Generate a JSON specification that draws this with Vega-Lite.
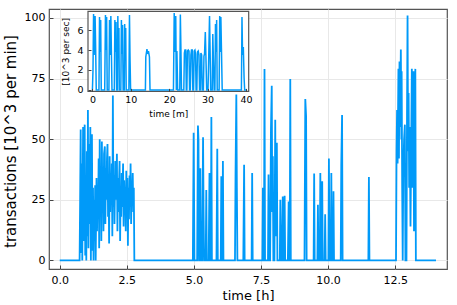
{
  "$schema": "https://vega.github.io/schema/vega-lite/v6.json",
  "width": 398,
  "height": 260,
  "autosize": "none",
  "padding": {"left": 49, "top": 9, "right": 10, "bottom": 36},
  "background": "white",
  "config": {
    "font": "DejaVu Sans",
    "view": {"stroke": "#555555", "strokeWidth": 1.2},
    "axis": {"labelColor": "#000000", "titleColor": "#000000", "gridColor": "#e8e8e8", "tickColor": "#444444", "domain": false, "titleFontWeight": "normal"}
  },
  "datasets": {
    "main": [
      {"t":0,"v":0},{"t":0.74,"v":0},
      {"t":0.76,"v":25},{"t":0.78,"v":54},{"t":0.80,"v":3},{"t":0.82,"v":40},{"t":0.84,"v":0},{"t":0.87,"v":55},{"t":0.89,"v":8},{"t":0.91,"v":42},{"t":0.93,"v":56},{"t":0.95,"v":2},{"t":0.97,"v":35},{"t":0.99,"v":0},{"t":1.01,"v":45},{"t":1.03,"v":10},{"t":1.05,"v":62},{"t":1.07,"v":5},{"t":1.09,"v":48},{"t":1.11,"v":15},{"t":1.14,"v":55},{"t":1.16,"v":0},{"t":1.18,"v":38},{"t":1.20,"v":52},{"t":1.22,"v":4},{"t":1.24,"v":30},{"t":1.26,"v":0},{"t":1.28,"v":25},{"t":1.30,"v":8},{"t":1.32,"v":31},{"t":1.34,"v":0},
      {"t":1.37,"v":34},{"t":1.39,"v":12},{"t":1.41,"v":30},{"t":1.43,"v":18},{"t":1.45,"v":42},{"t":1.47,"v":5},{"t":1.49,"v":50},{"t":1.51,"v":20},{"t":1.53,"v":38},{"t":1.55,"v":8},{"t":1.57,"v":49},{"t":1.59,"v":22},{"t":1.61,"v":35},{"t":1.63,"v":12},{"t":1.65,"v":44},{"t":1.68,"v":47},{"t":1.70,"v":15},{"t":1.72,"v":38},{"t":1.74,"v":25},{"t":1.76,"v":42},{"t":1.78,"v":48},{"t":1.80,"v":18},{"t":1.82,"v":33},{"t":1.84,"v":7},{"t":1.86,"v":43},{"t":1.88,"v":20},{"t":1.90,"v":36},{"t":1.92,"v":26},{"t":1.94,"v":40},{"t":1.96,"v":10},{"t":1.98,"v":68},{"t":2.00,"v":22},{"t":2.02,"v":35},{"t":2.04,"v":15},{"t":2.07,"v":41},{"t":2.09,"v":25},{"t":2.11,"v":30},{"t":2.13,"v":44},{"t":2.15,"v":12},{"t":2.17,"v":34},{"t":2.19,"v":20},{"t":2.21,"v":32},{"t":2.23,"v":41},{"t":2.25,"v":8},{"t":2.27,"v":30},{"t":2.29,"v":18},{"t":2.31,"v":36},{"t":2.33,"v":22},{"t":2.36,"v":40},{"t":2.38,"v":14},{"t":2.40,"v":33},{"t":2.42,"v":24},{"t":2.44,"v":30},{"t":2.46,"v":12},{"t":2.48,"v":37},{"t":2.50,"v":20},{"t":2.52,"v":34},{"t":2.54,"v":6},{"t":2.56,"v":30},{"t":2.58,"v":17},{"t":2.60,"v":35},{"t":2.62,"v":22},{"t":2.64,"v":40},{"t":2.66,"v":15},{"t":2.68,"v":32},{"t":2.70,"v":26},{"t":2.72,"v":36},{"t":2.74,"v":20},{"t":2.76,"v":30},{"t":2.78,"v":0},
      {"t":4.96,"v":0},{"t":4.99,"v":52.6},{"t":5.02,"v":0},
      {"t":5.12,"v":0},{"t":5.15,"v":55.6},{"t":5.17,"v":49.8},{"t":5.19,"v":0},
      {"t":5.22,"v":0},{"t":5.24,"v":38},{"t":5.26,"v":0},
      {"t":5.31,"v":0},{"t":5.34,"v":50.8},{"t":5.36,"v":20},{"t":5.38,"v":0},
      {"t":5.44,"v":0},{"t":5.46,"v":29},{"t":5.48,"v":0},
      {"t":5.55,"v":0},{"t":5.58,"v":36},{"t":5.60,"v":0},
      {"t":5.63,"v":0},{"t":5.65,"v":59.2},{"t":5.67,"v":0},
      {"t":5.84,"v":0},{"t":5.87,"v":46},{"t":5.89,"v":0},
      {"t":6.00,"v":0},{"t":6.02,"v":34.7},{"t":6.04,"v":0},
      {"t":6.06,"v":0},{"t":6.08,"v":41},{"t":6.10,"v":0},
      {"t":6.53,"v":0},{"t":6.55,"v":35},{"t":6.58,"v":68.4},{"t":6.60,"v":30},{"t":6.62,"v":0},
      {"t":6.84,"v":0},{"t":6.87,"v":39.5},{"t":6.89,"v":0},
      {"t":7.15,"v":0},{"t":7.17,"v":36},{"t":7.19,"v":0},
      {"t":7.55,"v":0},{"t":7.57,"v":30},{"t":7.59,"v":0},{"t":7.61,"v":0},{"t":7.63,"v":79},{"t":7.65,"v":0},
      {"t":7.76,"v":0},{"t":7.78,"v":35.4},{"t":7.80,"v":0},
      {"t":7.84,"v":0},{"t":7.87,"v":54},{"t":7.90,"v":72},{"t":7.92,"v":20},{"t":7.94,"v":43},{"t":7.96,"v":0},
      {"t":8.00,"v":0},{"t":8.03,"v":58},{"t":8.05,"v":10},{"t":8.09,"v":48.5},{"t":8.11,"v":0},
      {"t":8.20,"v":0},{"t":8.22,"v":25},{"t":8.24,"v":0},
      {"t":8.28,"v":0},{"t":8.31,"v":26.4},{"t":8.33,"v":0},
      {"t":8.35,"v":0},{"t":8.38,"v":26.7},{"t":8.40,"v":0},
      {"t":8.50,"v":0},{"t":8.53,"v":24.3},{"t":8.55,"v":0},
      {"t":8.57,"v":0},{"t":8.59,"v":74.8},{"t":8.61,"v":0},
      {"t":9.12,"v":0},{"t":9.15,"v":66.6},{"t":9.18,"v":59.4},{"t":9.20,"v":0},
      {"t":9.46,"v":0},{"t":9.48,"v":35.8},{"t":9.50,"v":0},
      {"t":9.60,"v":0},{"t":9.62,"v":23},{"t":9.64,"v":0},
      {"t":9.69,"v":0},{"t":9.71,"v":36},{"t":9.73,"v":0},
      {"t":9.76,"v":0},{"t":9.78,"v":32.6},{"t":9.80,"v":0},
      {"t":9.87,"v":0},{"t":9.89,"v":19},{"t":9.91,"v":0},
      {"t":10.01,"v":0},{"t":10.03,"v":42},{"t":10.05,"v":0},
      {"t":10.10,"v":0},{"t":10.12,"v":36},{"t":10.14,"v":0},
      {"t":10.18,"v":0},{"t":10.20,"v":28.5},{"t":10.22,"v":0},
      {"t":10.47,"v":0},{"t":10.49,"v":39.5},{"t":10.52,"v":60},{"t":10.54,"v":0},
      {"t":11.50,"v":0},{"t":11.52,"v":34.4},{"t":11.54,"v":0},
      {"t":12.53,"v":0},{"t":12.55,"v":45},{"t":12.57,"v":62},{"t":12.59,"v":40},{"t":12.62,"v":79},{"t":12.64,"v":42},{"t":12.66,"v":82},{"t":12.68,"v":55},{"t":12.71,"v":87},{"t":12.73,"v":50},{"t":12.74,"v":78},{"t":12.76,"v":30},{"t":12.78,"v":0},{"t":12.80,"v":35},{"t":12.83,"v":50},{"t":12.86,"v":56},{"t":12.88,"v":0},
      {"t":12.92,"v":0},{"t":12.94,"v":60},{"t":12.96,"v":101},{"t":12.98,"v":45},{"t":13.00,"v":69},{"t":13.02,"v":30},{"t":13.04,"v":55},{"t":13.07,"v":14},{"t":13.09,"v":40},{"t":13.12,"v":79},{"t":13.14,"v":30},{"t":13.16,"v":60},{"t":13.18,"v":78},{"t":13.20,"v":12},{"t":13.22,"v":50},{"t":13.25,"v":79},{"t":13.27,"v":0},
      {"t":14.02,"v":0}
    ],
    "inset": [
      {"m":0,"v":0},{"m":0.15,"v":2.0},{"m":0.3,"v":7.6},{"m":0.45,"v":3.5},{"m":0.55,"v":5.5},{"m":0.7,"v":7.4},{"m":0.85,"v":4.0},{"m":1.0,"v":0},
      {"m":1.7,"v":0},{"m":1.85,"v":7.3},{"m":2.0,"v":3.8},{"m":2.15,"v":7.0},{"m":2.3,"v":0},
      {"m":3.2,"v":0},{"m":3.4,"v":7.5},{"m":3.55,"v":4.0},{"m":3.7,"v":7.3},{"m":3.85,"v":0},
      {"m":4.3,"v":0},{"m":4.45,"v":7.0},{"m":4.6,"v":3.5},{"m":4.8,"v":7.4},{"m":4.95,"v":3.6},{"m":5.1,"v":0},
      {"m":5.7,"v":0},{"m":5.85,"v":7.0},{"m":6.0,"v":3.8},{"m":6.15,"v":6.8},{"m":6.3,"v":0},
      {"m":6.5,"v":0},{"m":6.62,"v":7.4},{"m":6.75,"v":3.5},{"m":6.9,"v":6.2},{"m":7.0,"v":0},
      {"m":7.4,"v":0},{"m":7.55,"v":7.0},{"m":7.7,"v":3.6},{"m":7.85,"v":6.5},{"m":8.0,"v":0},
      {"m":8.3,"v":0},{"m":8.4,"v":6.6},{"m":8.55,"v":3.8},{"m":8.67,"v":6.2},{"m":8.8,"v":0},
      {"m":9.5,"v":0},{"m":9.65,"v":7.5},{"m":9.8,"v":3.0},{"m":9.95,"v":0},
      {"m":13.8,"v":0},{"m":13.9,"v":3.3},{"m":14.2,"v":4.1},{"m":14.4,"v":3.6},{"m":14.6,"v":3.9},{"m":14.85,"v":3.3},{"m":15.0,"v":0},
      {"m":21.1,"v":0},{"m":21.3,"v":7.7},{"m":21.45,"v":3.8},{"m":21.7,"v":7.4},{"m":21.85,"v":0},{"m":22.0,"v":3.9},{"m":22.2,"v":0},
      {"m":22.75,"v":0},{"m":22.9,"v":7.55},{"m":23.05,"v":4.0},{"m":23.2,"v":0},
      {"m":23.8,"v":0},{"m":23.95,"v":3.7},{"m":24.1,"v":4.0},{"m":24.3,"v":4.0},{"m":24.45,"v":0},
      {"m":24.6,"v":0},{"m":24.75,"v":3.9},{"m":24.95,"v":4.0},{"m":25.15,"v":3.9},{"m":25.3,"v":0},
      {"m":25.5,"v":0},{"m":25.65,"v":3.5},{"m":25.8,"v":4.0},{"m":26.0,"v":4.0},{"m":26.15,"v":0},
      {"m":26.35,"v":0},{"m":26.5,"v":3.9},{"m":26.7,"v":4.0},{"m":26.85,"v":3.6},{"m":27.0,"v":0},
      {"m":27.2,"v":0},{"m":27.35,"v":3.8},{"m":27.55,"v":3.9},{"m":27.75,"v":3.5},{"m":27.9,"v":0},
      {"m":28.1,"v":0},{"m":28.25,"v":3.7},{"m":28.45,"v":3.5},{"m":28.6,"v":0},
      {"m":28.9,"v":0},{"m":29.05,"v":3.4},{"m":29.2,"v":3.6},{"m":29.4,"v":5.8},{"m":29.55,"v":3.5},{"m":29.75,"v":0},
      {"m":30.1,"v":0},{"m":30.3,"v":3.5},{"m":30.5,"v":7.4},{"m":30.65,"v":4.0},{"m":30.8,"v":0},
      {"m":31.2,"v":0},{"m":31.35,"v":5.6},{"m":31.5,"v":3.2},{"m":31.7,"v":0},
      {"m":31.9,"v":0},{"m":32.05,"v":6.6},{"m":32.2,"v":3.8},{"m":32.35,"v":7.0},{"m":32.5,"v":0},
      {"m":33.0,"v":0},{"m":33.15,"v":7.4},{"m":33.3,"v":3.8},{"m":33.45,"v":7.3},{"m":33.6,"v":4.2},{"m":33.8,"v":0},
      {"m":38.8,"v":0},{"m":38.95,"v":7.3},{"m":39.1,"v":3.5},{"m":39.3,"v":4.3},{"m":39.5,"v":1.2},{"m":39.65,"v":0},{"m":40.0,"v":0}
    ],
    "frame": [{"x":-1.15,"x2":40.7,"y":-0.15,"y2":7.87}]
  },
  "layer": [
    {
      "data": {"name": "main"},
      "mark": {"type": "line", "color": "#009AF9", "strokeWidth": 1.8, "clip": true},
      "encoding": {
        "x": {"field": "t", "type": "quantitative", "scale": {"domain": [-0.40, 14.43], "nice": false, "zero": false},
              "axis": {"values": [0, 2.5, 5, 7.5, 10, 12.5], "format": ".1f", "title": "time [h]", "labelFontSize": 11, "titleFontSize": 13, "tickSize": -4, "labelPadding": 9, "titleY": 26, "titleBaseline": "middle"}},
        "y": {"field": "v", "type": "quantitative", "scale": {"domain": [-3.55, 103.7], "nice": false, "zero": false},
              "axis": {"values": [0, 25, 50, 75, 100], "title": "transactions [10^3 per min]", "labelFontSize": 11, "titleFontSize": 15, "tickSize": -4, "labelPadding": 8, "titleX": -39, "titleY": 132, "titleBaseline": "middle", "titleAlign": "center", "titleAngle": -90}}
      }
    },
    {
      "layer": [
        {
          "data": {"name": "frame"},
          "mark": {"type": "rect", "fill": "white", "stroke": "#555555", "strokeWidth": 1.2},
          "encoding": {
            "x": {"field": "x", "type": "quantitative", "scale": {"domain": [-1.15, 40.7], "range": [39, 199.7], "nice": false, "zero": false},
                  "axis": {"orient": "bottom", "offset": -177.6, "zindex": 1, "values": [0, 10, 20, 30, 40], "title": "time [m]", "labelFontSize": 9.5, "titleFontSize": 9, "tickSize": -3, "labelPadding": 6, "titleY": 21.6, "titleBaseline": "middle", "gridColor": "#eeeeee"}},
            "x2": {"field": "x2"},
            "y": {"field": "y", "type": "quantitative", "scale": {"domain": [-0.15, 7.87], "range": [82.4, 2.4], "nice": false, "zero": false},
                  "axis": {"orient": "left", "offset": -39, "zindex": 1, "values": [0, 2, 4, 6], "title": "[10^3 per sec]", "labelFontSize": 9.5, "titleFontSize": 9, "tickSize": -3, "labelPadding": 8, "titleX": -23, "titleBaseline": "middle", "titleAlign": "center", "titleAngle": -90, "gridColor": "#eeeeee"}},
            "y2": {"field": "y2"}
          }
        },
        {
          "data": {"name": "inset"},
          "mark": {"type": "line", "color": "#009AF9", "strokeWidth": 1.5},
          "encoding": {
            "x": {"field": "m", "type": "quantitative"},
            "y": {"field": "v", "type": "quantitative"}
          }
        }
      ]
    }
  ],
  "resolve": {"scale": {"x": "independent", "y": "independent"}, "axis": {"x": "independent", "y": "independent"}}
}
